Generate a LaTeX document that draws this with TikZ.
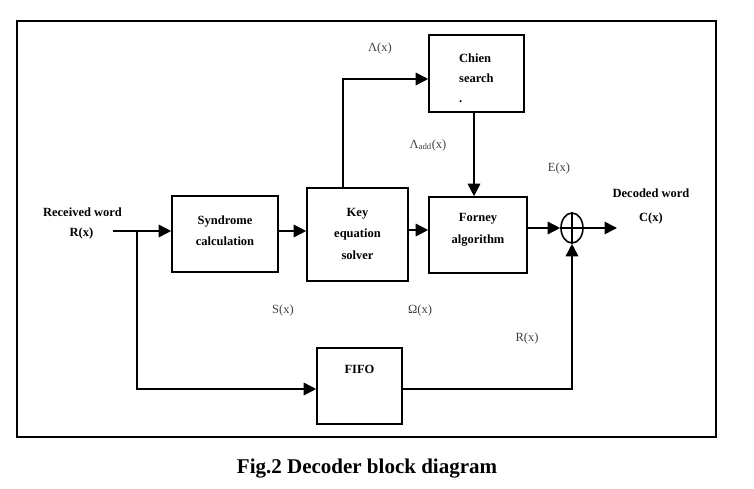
\documentclass[tikz,border=0pt]{standalone}
\usepackage{fontspec}
\setmainfont{Liberation Serif}
\usetikzlibrary{arrows.meta,shapes.geometric}
\begin{document}
\begin{tikzpicture}[x=1pt,y=-1pt,
  blk/.style={draw, line width=1.6pt, inner sep=0pt},
  arr/.style={line width=1.6pt, -{Triangle[length=12.5pt,width=12.5pt]}},
  ln/.style={line width=1.6pt},
  lbl/.style={font=\fontsize{12.5}{15}\selectfont, text=black!75, inner sep=0pt},
  ttl/.style={font=\bfseries\fontsize{12.5}{21.5}\selectfont, align=center, inner sep=0pt}]
\useasboundingbox (0,0) rectangle (754,489);
\node[draw, line width=1.6pt, inner sep=0pt, minimum width=699pt, minimum height=416pt] (frame) at (366.5,229) {};
% blocks
\node[blk, minimum width=106pt, minimum height=76pt] (syn) at (225,234) {};
\node[ttl] (synt) at (225,230.5) {Syndrome\\calculation};
\node[blk, minimum width=101pt, minimum height=93pt] (key) at (357.5,234.5) {};
\node[ttl] (keyt) at (357.5,233.5) {Key\\equation\\solver};
\node[blk, minimum width=98pt, minimum height=76pt] (forney) at (478,235) {};
\node[ttl] (forneyt) at (478,230) {Forney\\algorithm};
\node[blk, minimum width=95pt, minimum height=77pt] (chien) at (476.5,73.5) {};
\node[ttl, align=left, anchor=north west, font=\bfseries\fontsize{12.5}{20}\selectfont] (chient) at (459,54) {Chien\\search\\.};
\node[blk, minimum width=85pt, minimum height=76pt] (fifo) at (359.5,386) {};
\node[ttl] (fifot) at (359.5,369) {FIFO};
\node[draw, ellipse, line width=1.6pt, inner sep=0pt, minimum width=22pt, minimum height=30pt] (sum) at (572,228) {};
\draw[ln] (sum.north) -- (sum.south);
\draw[ln] (sum.west) -- (sum.east);
% texts
\node[ttl] (rw) at (82.5,212) {Received word};
\node[ttl] (rx) at (81.5,233) {R(x)};
\node[ttl] (dw) at (651,193) {Decoded word};
\node[ttl] (cx) at (651,218) {C(x)};
\node[lbl] (lam) at (380,48) {Λ(x)};
\node[lbl] (lamadd) at (428,145) {Λ\textsubscript{add}(x)};
\node[lbl] (ex) at (559,168) {E(x)};
\node[lbl] (sx) at (283,310) {S(x)};
\node[lbl] (ox) at (420,310) {Ω(x)};
\node[lbl] (rx2) at (527,338) {R(x)};
\node[font=\bfseries\fontsize{21}{25}\selectfont, inner sep=0pt] (cap) at (367,469) {Fig.2 Decoder block diagram};
% connectors
\coordinate (in) at (113,231);
\coordinate (j) at (137,231);
\coordinate (fy) at (137,389);
\coordinate (kx) at (343,79);
\coordinate (cxx) at (474,0);
\coordinate (fw) at (0,230);
\coordinate (out) at (617,228);
\draw[arr] (in) -- (syn.west |- in);
\draw[arr] (syn.east |- in) -- (key.west |- in);
\draw[arr] (key.east |- fw) -- (forney.west |- fw);
\draw[arr] (forney.east |- sum) -- (sum.west);
\draw[arr] (sum.east) -- (out);
\draw[arr] (key.north -| kx) |- (chien.west |- kx);
\draw[arr] (chien.south -| cxx) -- (forney.north -| cxx);
\draw[arr] (j) -- (fy) -- (fifo.west |- fy);
\draw[arr] (fifo.east |- fy) -| (sum.south);
\end{tikzpicture}
\end{document}
